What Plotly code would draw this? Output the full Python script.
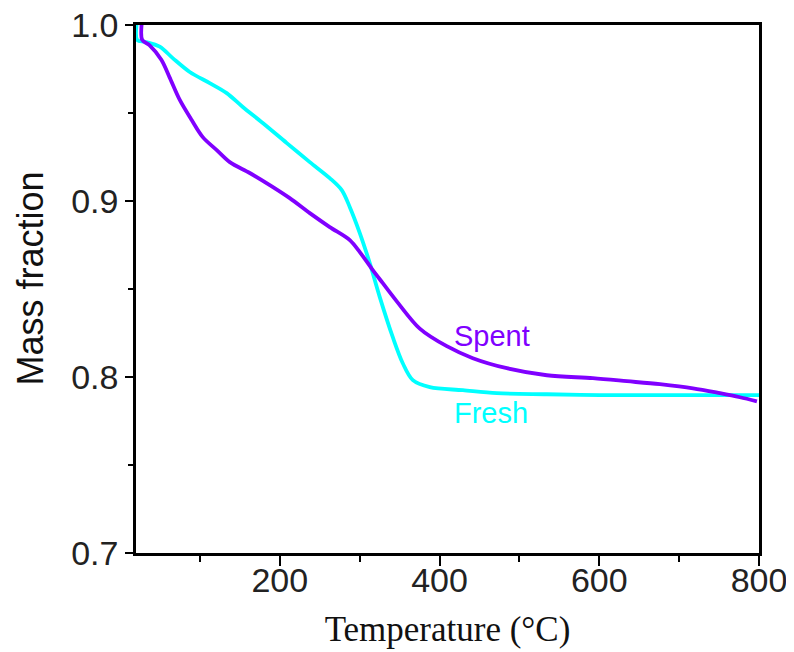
import plotly.graph_objects as go

# Fresh catalyst (cyan)
fresh_T = [21.3, 21.5, 30.9, 49.7, 66.0, 87.3, 112.3, 133.6, 153.7, 178.7, 208.8, 237.6,
           262.6, 277.6, 287.7, 300.2, 312.7, 325.2, 341.5, 354.0, 366.6, 387.9, 429.2,
           471.8, 534.4, 600.8, 700.0, 800.0]
fresh_m = [1.003, 0.9915, 0.9905, 0.9877, 0.9812, 0.9733, 0.9670, 0.9613, 0.9534, 0.9443,
           0.9329, 0.9221, 0.9130, 0.9062, 0.8965, 0.8818, 0.8647, 0.8454, 0.8226, 0.8078,
           0.7982, 0.7942, 0.7925, 0.7908, 0.7902, 0.7897, 0.7897, 0.7897]

# Spent catalyst (violet)
spent_T = [27.6, 27.8, 36.8, 51.9, 61.9, 74.8, 89.7, 103.6, 121.1, 137.4, 162.4, 187.5,
           212.5, 237.6, 262.6, 287.7, 300.2, 316.5, 329.0, 346.5, 375.3, 409.1, 441.7,
           484.3, 534.4, 592.0, 634.6, 675.9, 717.3, 751.1, 776.2, 797.4]
spent_m = [1.003, 0.9915, 0.9886, 0.9801, 0.9704, 0.9574, 0.9460, 0.9363, 0.9289, 0.9221,
           0.9159, 0.9090, 0.9016, 0.8931, 0.8852, 0.8778, 0.8710, 0.8607, 0.8533, 0.8430,
           0.8275, 0.8175, 0.8107, 0.8050, 0.8010, 0.7993, 0.7976, 0.7959, 0.7936, 0.7908,
           0.7885, 0.7862]

x_ticks = [200, 400, 600, 800]
y_ticks = [0.7, 0.8, 0.9, 1.0]
y_tick_labels = ["0.7", "0.8", "0.9", "1.0"]

CYAN = "#00FFFF"
VIOLET = "#8000FF"

fig = go.Figure()
fig.add_trace(go.Scatter(x=fresh_T, y=fresh_m, mode="lines", name="Fresh",
                         line=dict(color=CYAN, width=3.8, shape="spline", smoothing=0.9)))
fig.add_trace(go.Scatter(x=spent_T, y=spent_m, mode="lines", name="Spent",
                         line=dict(color=VIOLET, width=3.8, shape="spline", smoothing=0.9)))

fig.add_annotation(x=466, y=0.8232, xref="x", yref="y", text="Spent", showarrow=False,
                   font=dict(family="Liberation Sans, Arial", size=29, color=VIOLET))
fig.add_annotation(x=464, y=0.7794, xref="x", yref="y", text="Fresh", showarrow=False,
                   font=dict(family="Liberation Sans, Arial", size=29, color=CYAN))
# y-axis title as rotated annotation (slightly above plot centre, as in reference)
fig.add_annotation(x=0, y=0.52, xref="paper", yref="paper", xshift=-106,
                   text="Mass fraction", textangle=-90, showarrow=False,
                   xanchor="center", yanchor="middle",
                   font=dict(family="Liberation Sans, Arial", size=36, color="#111"))

fig.update_layout(
    width=786, height=644,
    margin=dict(l=128, r=35, t=17, b=99),
    paper_bgcolor="white", plot_bgcolor="white",
    showlegend=False,
)
fig.update_xaxes(
    range=[20, 800], tickvals=x_ticks, ticks="outside", ticklen=10, tickwidth=2,
    tickcolor="black", showline=True, linecolor="black", linewidth=2.5, mirror=True,
    showgrid=False, zeroline=False, automargin=False, ticklabelstandoff=-15,
    ticklabeloverflow="allow",
    tickfont=dict(family="Liberation Sans, Arial", size=34, color="#222"),
    minor=dict(tickvals=[100, 300, 500, 700], ticks="outside", ticklen=6, tickwidth=2,
               tickcolor="black", showgrid=False),
    title=dict(text="Temperature (°C)", standoff=19,
               font=dict(family="Liberation Serif, Times New Roman", size=35, color="#111")),
)
fig.update_yaxes(
    range=[0.7, 1.0], tickvals=y_ticks, ticktext=y_tick_labels, ticks="outside", ticklen=8,
    tickwidth=2, tickcolor="black", showline=True, linecolor="black", linewidth=2.5,
    mirror=True, showgrid=False, zeroline=False, automargin=False,
    ticklabeloverflow="allow",
    tickfont=dict(family="Liberation Sans, Arial", size=34, color="#222"),
    minor=dict(tickvals=[0.75, 0.85, 0.95], ticks="outside", ticklen=5, tickwidth=2,
               tickcolor="black", showgrid=False),
)

fig.write_html("out.html")
